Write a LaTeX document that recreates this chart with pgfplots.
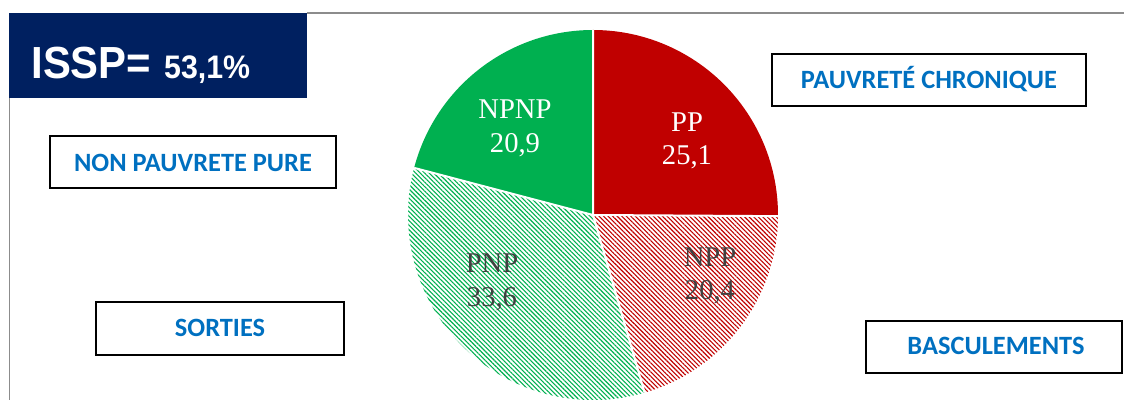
\documentclass[border=0pt]{standalone}
\usepackage{fontspec}
\setmainfont{Liberation Serif}
\newfontfamily\arial{Liberation Sans}
\newfontfamily\calibri{Carlito}
\usepackage{pgfplots}
\usepackage{pgfplotstable}
\pgfplotsset{compat=1.18}
\usetikzlibrary{patterns.meta}

\definecolor{navy}{HTML}{002060}
\definecolor{cRed}{HTML}{C00000}
\definecolor{cGreen}{HTML}{00B050}
\definecolor{cBlue}{HTML}{0070C0}
\definecolor{cLab}{HTML}{404040}
\definecolor{cFrame}{HTML}{8C8C8C}

% shares (%) and label baselines (pixel coordinates of the 1124x400 canvas)
\pgfplotstableread{
name value lx ly
PP   25.1  687 132
NPP  20.4  710 267
PNP  33.6  492 273
NPNP 20.9  515 119
}\piedata

\newcommand\getrow[2]{%
  \pgfplotstablegetelem{#1}{value}\of\piedata \expandafter\let\csname v#2\endcsname\pgfplotsretval
  \pgfplotstablegetelem{#1}{lx}\of\piedata \expandafter\let\csname x#2\endcsname\pgfplotsretval
  \pgfplotstablegetelem{#1}{ly}\of\piedata \expandafter\let\csname y#2\endcsname\pgfplotsretval}
\newcommand\pct[1]{\pgfmathprintnumber[fixed,fixed zerofill,precision=1,use comma,assume math mode=true]{#1}}

\tikzset{
  boxlab/.style={font=\calibri\bfseries\fontsize{13.2}{15}\selectfont, text=cBlue, anchor=base, inner sep=0pt},
  pielab/.style={font=\fontsize{14.3}{16}\selectfont, anchor=base, inner sep=0pt},
  hatch/.style={pattern={Lines[angle=-45,distance=1.6pt,line width=0.55pt]}, pattern color=#1},
}

\begin{document}
\begin{tikzpicture}
\getrow{0}{A}\getrow{1}{B}\getrow{2}{C}\getrow{3}{D}
\pgfmathsetmacro\aA{90}
\pgfmathsetmacro\aB{\aA-3.6*\vA}
\pgfmathsetmacro\aC{\aB-3.6*\vB}
\pgfmathsetmacro\aD{\aC-3.6*\vC}
\pgfmathsetmacro\aE{\aD-3.6*\vD}
\def\R{92.5pt}
\begin{axis}[
  width=562pt, height=200pt, scale only axis,
  xmin=0, xmax=1124, ymin=0, ymax=400, y dir=reverse,
  hide axis,
]
\path (axis cs:0,0) rectangle (axis cs:1124,400);
% frame
\draw[cFrame, line width=0.8pt] (axis cs:307,13) -- (axis cs:1124,13);
\draw[cFrame, line width=0.8pt] (axis cs:9.5,98) -- (axis cs:9.5,400);
\fill[navy] (axis cs:9,13) rectangle (axis cs:307,98);
\node[anchor=base west, inner sep=0pt, text=white] at (axis cs:31,78.5)
  {\scalebox{0.93}[1]{\arial\bfseries\fontsize{22.5}{24}\selectfont ISSP=\hspace{7pt}\fontsize{16.3}{18}\selectfont 53,1\%}};

% pie
\coordinate (c) at (axis cs:593,215);
\fill[cRed] (c) -- ++(\aA:\R) arc[start angle=\aA, end angle=\aB, radius=\R] -- cycle;
\fill[hatch=cRed] (c) -- ++(\aB:\R) arc[start angle=\aB, end angle=\aC, radius=\R] -- cycle;
\fill[hatch=cGreen] (c) -- ++(\aC:\R) arc[start angle=\aC, end angle=\aD, radius=\R] -- cycle;
\fill[cGreen] (c) -- ++(\aD:\R) arc[start angle=\aD, end angle=\aE, radius=\R] -- cycle;
\draw[white, line width=1pt] (c) -- ++(\aA:\R) (c) -- ++(\aB:\R) (c) -- ++(\aC:\R) (c) -- ++(\aD:\R);

\node[pielab, text=white] at (axis cs:\xA,\yA) {PP};
\node[pielab, text=white] at (axis cs:\xA,\yA+33) {\pct{\vA}};
\node[pielab, text=cLab] at (axis cs:\xB,\yB) {NPP};
\node[pielab, text=cLab] at (axis cs:\xB,\yB+33) {\pct{\vB}};
\node[pielab, text=cLab] at (axis cs:\xC,\yC) {PNP};
\node[pielab, text=cLab] at (axis cs:\xC,\yC+34) {\pct{\vC}};
\node[pielab, text=white] at (axis cs:\xD,\yD) {NPNP};
\node[pielab, text=white] at (axis cs:\xD,\yD+34) {\pct{\vD}};

% category boxes
\draw[black, line width=1pt] (axis cs:772,54) rectangle (axis cs:1086,106);
\node[boxlab] at (axis cs:929,89) {PAUVRETÉ CHRONIQUE};
\draw[black, line width=1pt] (axis cs:50,136) rectangle (axis cs:336,188);
\node[boxlab] at (axis cs:193,172) {NON PAUVRETE PURE};
\draw[black, line width=1pt] (axis cs:96,302) rectangle (axis cs:344,355);
\node[boxlab] at (axis cs:220,337) {SORTIES};
\draw[black, line width=1pt] (axis cs:866,321) rectangle (axis cs:1122,373);
\node[boxlab] at (axis cs:996,355) {BASCULEMENTS};
\end{axis}
\end{tikzpicture}
\end{document}
